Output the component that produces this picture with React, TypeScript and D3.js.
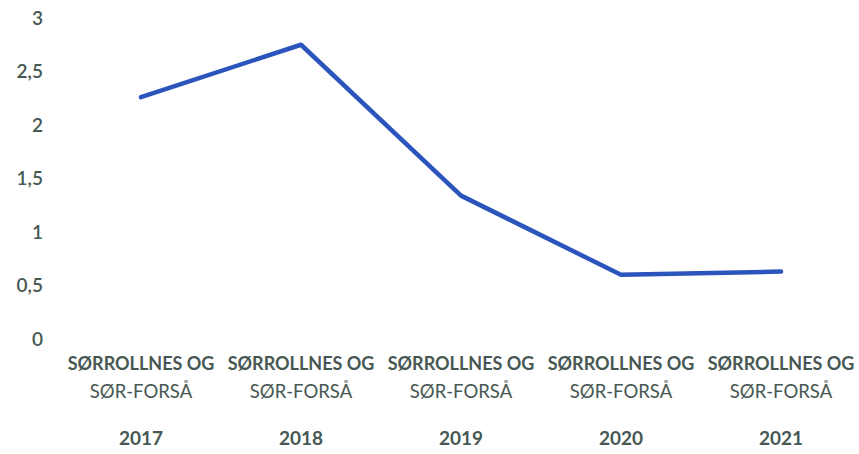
import React from "react";
import * as d3 from "d3";

const years = ["2017", "2018", "2019", "2020", "2021"];
const placeLine1 = "SØRROLLNES OG";
const placeLine2 = "SØR-FORSÅ";
const values = [2.26, 2.75, 1.34, 0.6, 0.63];
const yTicks = [0, 0.5, 1, 1.5, 2, 2.5, 3];

const W = 859;
const H = 454;
const textColor = "#475853";

export default function App() {
  const x = d3.scalePoint<string>().domain(years).range([61, 861]).padding(0.5);
  const y = d3.scaleLinear().domain([0, 3]).range([339, 18]);
  const fmt = (v: number) => String(v).replace(".", ",");

  const line = d3
    .line<number>()
    .x((d, i) => x(years[i]) as number)
    .y((d) => y(d));

  return (
    <svg
      width={W}
      height={H}
      style={{ position: "absolute", left: 0, top: 0, background: "#fff" }}
      fontFamily="Lato, 'Open Sans', sans-serif"
    >
      {yTicks.map((t) => (
        <text
          key={t}
          x={43}
          y={y(t)}
          dy="0.36em"
          textAnchor="end"
          fontSize={19}
          fontWeight={600}
          fill={textColor}
        >
          {fmt(t)}
        </text>
      ))}
      <path
        d={line(values) || ""}
        fill="none"
        stroke="#2b55bd"
        strokeWidth={4.5}
        strokeLinejoin="round"
        strokeLinecap="round"
      />
      {years.map((yr) => (
        <g key={yr} transform={`translate(${x(yr)},0)`} fill={textColor} textAnchor="middle">
          <text y={370} fontSize={18} fontWeight={700}>
            {placeLine1}
          </text>
          <text y={398} fontSize={18.5} fontWeight={400}>
            {placeLine2}
          </text>
          <text y={445} fontSize={19} fontWeight={700}>
            {yr}
          </text>
        </g>
      ))}
    </svg>
  );
}
